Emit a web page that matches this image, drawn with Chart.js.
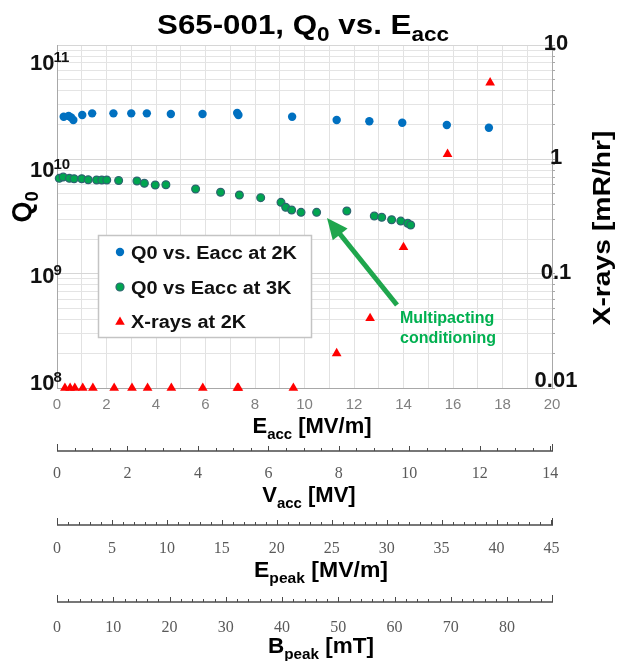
<!DOCTYPE html>
<html>
<head>
<meta charset="utf-8">
<script src="https://cdn.jsdelivr.net/npm/chart.js@4/dist/chart.umd.min.js"></script>
<style>
html,body{margin:0;padding:0;background:#fff;}
#wrap{width:617px;height:661px;position:relative;}
canvas{display:block;}
</style>
</head>
<body>
<div id="wrap"><canvas id="c" width="617" height="661" style="width:617px;height:661px"></canvas></div>
<script>
// ---------------- data ----------------
const eacc2K = [0.27, 0.47, 0.57, 0.66, 1.02, 1.42, 2.28, 3.0, 3.63, 4.6, 5.88, 7.28, 7.33, 9.5, 11.3, 12.62, 13.95, 15.75, 17.45];
const q0At2K = [3.49e10, 3.54e10, 3.44e10, 3.25e10, 3.62e10, 3.75e10, 3.75e10, 3.75e10, 3.75e10, 3.70e10, 3.70e10, 3.78e10, 3.62e10, 3.49e10, 3.25e10, 3.16e10, 3.06e10, 2.92e10, 2.75e10];

const eacc3K = [0.09, 0.25, 0.50, 0.69, 1.00, 1.26, 1.60, 1.81, 2.01, 2.49, 3.23, 3.53, 3.97, 4.40, 5.60, 6.61, 7.37, 8.23, 9.05, 9.24, 9.48, 9.86, 10.49, 11.71, 12.82, 13.12, 13.52, 13.89, 14.17, 14.29];
const q0At3K = [9.23e9, 9.49e9, 9.23e9, 9.15e9, 9.15e9, 8.96e9, 8.90e9, 8.90e9, 8.90e9, 8.80e9, 8.71e9, 8.29e9, 7.99e9, 8.04e9, 7.33e9, 6.83e9, 6.44e9, 6.08e9, 5.50e9, 4.94e9, 4.66e9, 4.43e9, 4.43e9, 4.56e9, 4.09e9, 3.98e9, 3.78e9, 3.67e9, 3.50e9, 3.37e9];

const eaccXray = [0.32, 0.53, 0.72, 1.04, 1.45, 2.31, 3.03, 3.66, 4.62, 5.89, 7.29, 7.33, 9.55, 11.30, 12.65, 14.0, 15.78, 17.5];
const xrayAt2K = [0.01, 0.01, 0.01, 0.01, 0.01, 0.01, 0.01, 0.01, 0.01, 0.01, 0.01, 0.01, 0.01, 0.0201, 0.0407, 0.170, 1.11, 4.68];

const eaccTicks  = [0, 2, 4, 6, 8, 10, 12, 14, 16, 18, 20];
const vaccTicks  = [0, 2, 4, 6, 8, 10, 12, 14];
const epeakTicks = [0, 5, 10, 15, 20, 25, 30, 35, 40, 45];
const bpeakTicks = [0, 10, 20, 30, 40, 50, 60, 70, 80];
const q0Decades  = [1e8, 1e9, 1e10, 1e11];
const q0Exponents = ['8', '9', '10', '11'];
const xrayTicks  = [0.01, 0.1, 1, 10];
const xrayLabels = ['0.01', '0.1', '1', '10'];
const legendLabels = ['Q0 vs. Eacc at 2K', 'Q0 vs Eacc at 3K', 'X-rays at 2K'];
const noteLines = ['Multipacting', 'conditioning'];

// ---------------- helpers ----------------
const SANS = '"Liberation Sans", Arial, Helvetica, sans-serif';
const SERIF = '"Liberation Serif", "Times New Roman", Times, serif';

function richMeasure(ctx, parts, size, subScale) {
  return parts.map(([t, sub]) => {
    ctx.font = `bold ${sub ? size * subScale : size}px ${SANS}`;
    return ctx.measureText(t).width;
  });
}
// parts: [[text, isSubscript], ...]; draws centered (or left) at baseline y
function drawRich(ctx, parts, x, y, size, o) {
  o = o || {};
  const subScale = o.subScale || 0.68;
  const widths = richMeasure(ctx, parts, size, subScale);
  const nat = widths.reduce((a, b) => a + b, 0);
  const sx = o.target ? o.target / nat : (o.sx || 1);
  ctx.save();
  ctx.translate(x, y);
  if (o.rotate) ctx.rotate(o.rotate);
  ctx.scale(sx, 1);
  ctx.fillStyle = o.color || '#000';
  ctx.textAlign = 'left';
  ctx.textBaseline = 'alphabetic';
  let cx = o.align === 'left' ? 0 : -nat / 2;
  parts.forEach(([t, sub], i) => {
    ctx.font = `bold ${sub ? size * subScale : size}px ${SANS}`;
    ctx.fillText(t, cx, sub ? size * 0.27 : 0);
    cx += widths[i];
  });
  ctx.restore();
  return nat * sx;
}

function tri(ctx, x, y, r) {
  ctx.beginPath();
  ctx.moveTo(x, y - r);
  ctx.lineTo(x + r * 0.87, y + r * 0.5);
  ctx.lineTo(x - r * 0.87, y + r * 0.5);
  ctx.closePath();
  ctx.fill();
}

function drawExtraAxis(ctx, scale, lineY, minorStep, majorStep) {
  const x0 = scale.getPixelForValue(scale.min);
  const x1 = scale.right + 1;
  ctx.save();
  ctx.strokeStyle = '#4a4a4a';
  ctx.lineWidth = 1.6;
  ctx.beginPath();
  ctx.moveTo(x0, lineY);
  ctx.lineTo(x1, lineY);
  ctx.stroke();
  ctx.lineWidth = 1;
  ctx.beginPath();
  const n = Math.floor((scale.max - scale.min) / minorStep + 1e-6);
  for (let i = 0; i <= n; i++) {
    const v = scale.min + i * minorStep;
    const px = Math.round(scale.getPixelForValue(v)) + 0.5;
    const r = v / majorStep;
    const major = Math.abs(r - Math.round(r)) < 1e-6;
    const h = major ? 5 : 3;
    ctx.moveTo(px, lineY);
    ctx.lineTo(px, lineY - h);
  }
  // end caps
  ctx.moveTo(Math.round(x0) + 0.5, lineY); ctx.lineTo(Math.round(x0) + 0.5, lineY - 7);
  ctx.moveTo(Math.round(x1) - 0.5, lineY); ctx.lineTo(Math.round(x1) - 0.5, lineY - 7);
  ctx.stroke();
  ctx.restore();
}

// ---------------- decoration plugin ----------------
const decor = {
  id: 'decor',
  afterDraw(chart) {
    const ctx = chart.ctx;
    const yQ = chart.scales.yQ, yX = chart.scales.yX;

    // title
    drawRich(ctx, [['S65-001, Q', 0], ['0', 1], [' vs. E', 0], ['acc', 1]], 303, 34, 27, { target: 292, subScale: 0.72 });

    // left decade labels
    q0Decades.forEach((v, i) => {
      const py = yQ.getPixelForValue(v) - 4;
      ctx.save();
      ctx.fillStyle = '#111';
      ctx.textAlign = 'left';
      ctx.textBaseline = 'middle';
      ctx.font = `bold 22px ${SANS}`;
      ctx.fillText('10', 30, py);
      const w = ctx.measureText('10').width;
      ctx.font = `bold 15px ${SANS}`;
      ctx.fillText(q0Exponents[i], 30 + w - 1, py - 6);
      ctx.restore();
    });

    // right labels
    xrayTicks.forEach((v, i) => {
      const py = Math.min(yX.getPixelForValue(v) - 1, 381);
      ctx.save();
      ctx.fillStyle = '#111';
      ctx.textAlign = 'center';
      ctx.textBaseline = 'middle';
      ctx.font = `bold 22px ${SANS}`;
      ctx.fillText(xrayLabels[i], 556, py);
      ctx.restore();
    });

    // axis titles
    drawRich(ctx, [['Q', 0], ['0', 1]], 31, 207, 27, { rotate: -Math.PI / 2 });
    drawRich(ctx, [['X-rays [mR/hr]', 0]], 610, 228, 24, { rotate: -Math.PI / 2, target: 195 });
    drawRich(ctx, [['E', 0], ['acc', 1], [' [MV/m]', 0]], 312, 433, 22, {});
    drawRich(ctx, [['V', 0], ['acc', 1], [' [MV]', 0]], 309, 502, 22, {});
    drawRich(ctx, [['E', 0], ['peak', 1], [' [MV/m]', 0]], 321, 577, 22, { target: 134 });
    drawRich(ctx, [['B', 0], ['peak', 1], [' [mT]', 0]], 321, 653, 22, { target: 106 });

    // extra bottom axes
    drawExtraAxis(ctx, chart.scales.xV, chart.scales.xV.top + 11, 0.5, 2);
    drawExtraAxis(ctx, chart.scales.xE, chart.scales.xE.top + 15, 1, 5);
    drawExtraAxis(ctx, chart.scales.xB, chart.scales.xB.top + 12, 2, 10);

    // legend
    ctx.save();
    ctx.fillStyle = '#fff';
    ctx.strokeStyle = '#c4c4c4';
    ctx.lineWidth = 1.5;
    ctx.fillRect(98, 235, 214, 103);
    ctx.strokeRect(98.5, 235.5, 213, 102);
    const rows = [252, 287, 321];
    ctx.fillStyle = '#0070C0';
    ctx.beginPath(); ctx.arc(120, rows[0], 4.2, 0, Math.PI * 2); ctx.fill();
    ctx.fillStyle = '#00A550'; ctx.strokeStyle = '#2D6470'; ctx.lineWidth = 1.2;
    ctx.beginPath(); ctx.arc(120, rows[1], 4, 0, Math.PI * 2); ctx.fill(); ctx.stroke();
    ctx.fillStyle = '#FF0000';
    tri(ctx, 120, rows[2] + 1, 5.5);
    ctx.font = `bold 18px ${SANS}`;
    const sx = 166 / ctx.measureText(legendLabels[0]).width;
    ctx.restore();
    legendLabels.forEach((t, i) => {
      drawRich(ctx, [[t, 0]], 131, rows[i] + 6.5, 18, { align: 'left', sx: sx, color: '#111' });
    });

    // annotation arrow
    ctx.save();
    const tip = { x: 327, y: 218 }, tail = { x: 397, y: 305 };
    const ang = Math.atan2(tip.y - tail.y, tip.x - tail.x);
    const hl = 21, hw = 19;
    const bx = tip.x - Math.cos(ang) * hl, by = tip.y - Math.sin(ang) * hl;
    ctx.strokeStyle = '#1FA64D';
    ctx.fillStyle = '#1FA64D';
    ctx.lineWidth = 5;
    ctx.beginPath(); ctx.moveTo(tail.x, tail.y); ctx.lineTo(bx + Math.cos(ang) * 2, by + Math.sin(ang) * 2); ctx.stroke();
    ctx.beginPath();
    ctx.moveTo(tip.x, tip.y);
    ctx.lineTo(bx + Math.sin(ang) * hw / 2, by - Math.cos(ang) * hw / 2);
    ctx.lineTo(bx - Math.sin(ang) * hw / 2, by + Math.cos(ang) * hw / 2);
    ctx.closePath(); ctx.fill();
    ctx.fillStyle = '#00B050';
    ctx.font = `bold 16px ${SANS}`;
    ctx.textAlign = 'left';
    ctx.textBaseline = 'alphabetic';
    ctx.fillText(noteLines[0], 400, 323);
    ctx.fillText(noteLines[1], 400, 343);
    ctx.restore();
  }
};

// ---------------- chart ----------------
function pts(xs, ys) { return xs.map((x, i) => ({ x: x, y: ys[i] })); }
function fixedTicks(arr) { return s => { s.ticks = arr.map(v => ({ value: v })); }; }

const eaccGrid = [];
for (let v = 0; v <= 20; v++) eaccGrid.push(v);
const xrayGrid = [];
[0.01, 0.1, 1].forEach(d => { for (let m = 1; m <= 9; m++) xrayGrid.push(+(d * m).toPrecision(3)); });
xrayGrid.push(10);

new Chart(document.getElementById('c'), {
  type: 'scatter',
  data: {
    datasets: [
      { label: legendLabels[0], data: pts(eacc2K, q0At2K), xAxisID: 'x', yAxisID: 'yQ',
        pointStyle: 'circle', pointRadius: 4.2, backgroundColor: '#0070C0', borderColor: '#0070C0', borderWidth: 0, clip: false },
      { label: legendLabels[1], data: pts(eacc3K, q0At3K), xAxisID: 'x', yAxisID: 'yQ',
        pointStyle: 'circle', pointRadius: 3.9, backgroundColor: '#00A550', borderColor: '#2D6470', borderWidth: 1.2, clip: false },
      { label: legendLabels[2], data: pts(eaccXray, xrayAt2K), xAxisID: 'x', yAxisID: 'yX',
        pointStyle: 'triangle', pointRadius: 5.6, backgroundColor: '#FF0000', borderColor: '#FF0000', borderWidth: 0, clip: false }
    ]
  },
  options: {
    responsive: false,
    animation: false,
    devicePixelRatio: 1,
    layout: { padding: { top: 45, left: 0, right: 0, bottom: 0 } },
    plugins: { legend: { display: false }, tooltip: { enabled: false }, title: { display: false } },
    scales: {
      x: {
        type: 'linear', position: 'bottom', weight: 0, min: 0, max: 20,
        afterBuildTicks: fixedTicks(eaccGrid),
        afterFit: s => { s.height = 52; },
        grid: { color: '#E2E2E2', drawTicks: false, lineWidth: 1 },
        border: { color: '#A8A8A8', width: 1 },
        ticks: { padding: 8, autoSkip: false, maxRotation: 0, color: '#808080',
                 font: { family: SANS, size: 15 },
                 callback: v => eaccTicks.includes(v) ? String(v) : '' }
      },
      xV: {
        type: 'linear', position: 'bottom', weight: 1, min: 0, max: 14.05,
        afterBuildTicks: fixedTicks(vaccTicks),
        afterFit: s => { s.height = 70; },
        grid: { display: false, drawTicks: false }, border: { display: false },
        ticks: { padding: 24, autoSkip: false, maxRotation: 0, color: '#5a5a5a', font: { family: SERIF, size: 16 } }
      },
      xE: {
        type: 'linear', position: 'bottom', weight: 2, min: 0, max: 45.05,
        afterBuildTicks: fixedTicks(epeakTicks),
        afterFit: s => { s.height = 80; },
        grid: { display: false, drawTicks: false }, border: { display: false },
        ticks: { padding: 29, autoSkip: false, maxRotation: 0, color: '#5a5a5a', font: { family: SERIF, size: 16 } }
      },
      xB: {
        type: 'linear', position: 'bottom', weight: 3, min: 0, max: 88,
        afterBuildTicks: fixedTicks(bpeakTicks),
        afterFit: s => { s.height = 71; },
        grid: { display: false, drawTicks: false }, border: { display: false },
        ticks: { padding: 28, autoSkip: false, maxRotation: 0, color: '#5a5a5a', font: { family: SERIF, size: 16 } }
      },
      yQ: {
        type: 'logarithmic', position: 'left', min: 1e8, max: 1.64e11,
        afterBuildTicks: fixedTicks(q0Decades),
        afterFit: s => { s.width = 57; },
        grid: { display: false, drawTicks: false },
        border: { color: '#A8A8A8', width: 1 },
        ticks: { display: false }
      },
      yX: {
        type: 'logarithmic', position: 'right', min: 0.01, max: 10,
        afterBuildTicks: fixedTicks(xrayGrid),
        afterFit: s => { s.width = 65; },
        grid: {
          color: c => {
            const v = c.tick ? c.tick.value : 0;
            return xrayTicks.some(t => Math.abs(v / t - 1) < 1e-6) ? '#D6D6D6' : '#E4E4E4';
          },
          drawTicks: true, tickLength: 3, tickColor: '#A8A8A8'
        },
        border: { color: '#A8A8A8', width: 1 },
        ticks: { display: false }
      }
    }
  },
  plugins: [decor]
});
</script>
</body>
</html>
